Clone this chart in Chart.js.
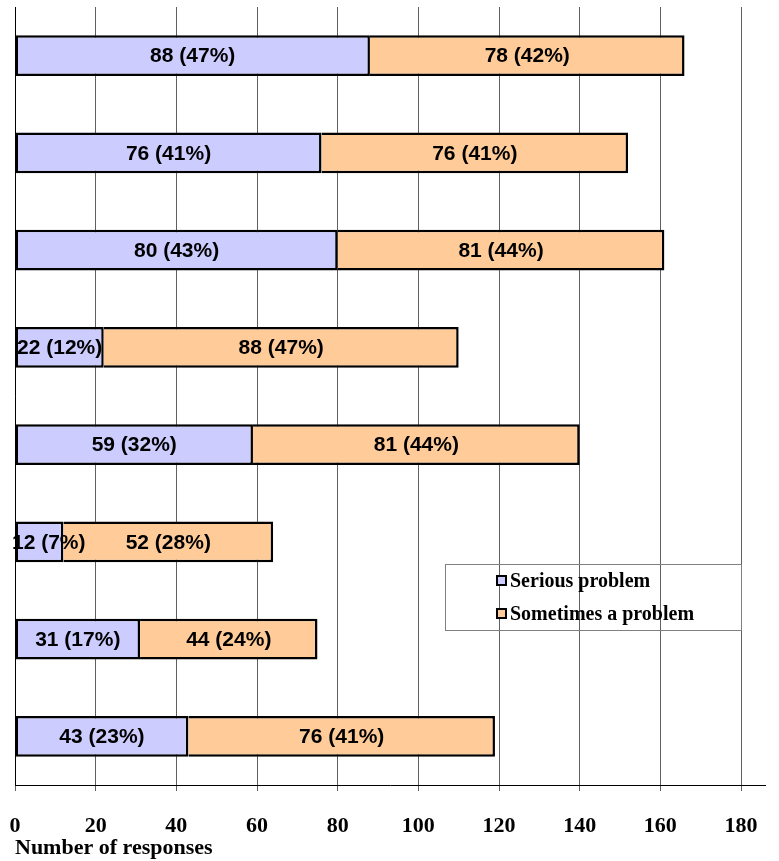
<!DOCTYPE html>
<html>
<head>
<meta charset="utf-8">
<script src="https://cdn.jsdelivr.net/npm/chart.js@4.4.1/dist/chart.umd.min.js"></script>
<style>
  html, body { margin: 0; padding: 0; background: #fff; }
  #wrap { width: 779px; height: 861px; position: relative; }
</style>
</head>
<body>
<div id="wrap"><canvas id="c"></canvas></div>
<script>
// Responses per item, top to bottom
const categories = ['Item 1', 'Item 2', 'Item 3', 'Item 4', 'Item 5', 'Item 6', 'Item 7', 'Item 8'];
const seriousCounts = [88, 76, 80, 22, 59, 12, 31, 43];
const seriousPct = [47, 41, 43, 12, 32, 7, 17, 23];
const sometimesCounts = [78, 76, 81, 88, 81, 52, 44, 76];
const sometimesPct = [42, 41, 44, 47, 44, 28, 24, 41];
const seriesNames = ['Serious problem', 'Sometimes a problem'];
const xTicks = [0, 20, 40, 60, 80, 100, 120, 140, 160, 180];

const pctBySeries = [seriousPct, sometimesPct];

// Writes "count (pct%)" in the middle of each bar segment
const segmentLabels = {
  id: 'segmentLabels',
  afterDatasetsDraw(chart) {
    const ctx = chart.ctx;
    ctx.save();
    ctx.font = 'bold 21px "Liberation Sans", Arial, sans-serif';
    ctx.fillStyle = '#000';
    ctx.textAlign = 'center';
    ctx.textBaseline = 'middle';
    chart.data.datasets.forEach((ds, di) => {
      const meta = chart.getDatasetMeta(di);
      meta.data.forEach((bar, i) => {
        const text = ds.data[i] + ' (' + pctBySeries[di][i] + '%)';
        const w = ctx.measureText(text).width;
        // keep narrow-segment labels from running off the left edge
        const cx = Math.max((bar.x + bar.base) / 2, 12 + w / 2);
        ctx.fillText(text, cx, bar.y + 1);
      });
    });
    ctx.restore();
  }
};

// Boxed legend inside the plot, plus the run-out of the value axis line
const boxedLegend = {
  id: 'boxedLegend',
  afterDraw(chart) {
    const ctx = chart.ctx;
    const area = chart.chartArea;
    ctx.save();
    // value axis line continues a little past the last gridline
    ctx.strokeStyle = '#000';
    ctx.lineWidth = 1;
    ctx.beginPath();
    ctx.moveTo(area.left, Math.round(area.bottom) + 0.5);
    ctx.lineTo(766, Math.round(area.bottom) + 0.5);
    ctx.stroke();

    const bx = 445.5, by = 564.5, bw = 296, bh = 66;
    ctx.strokeStyle = '#808080';
    ctx.lineWidth = 1;
    ctx.strokeRect(bx, by, bw, bh);

    ctx.font = 'bold 20px "Liberation Serif", "Times New Roman", serif';
    ctx.textAlign = 'left';
    ctx.textBaseline = 'middle';
    const rows = [581, 614];
    chart.data.datasets.forEach((ds, di) => {
      const y = rows[di];
      ctx.fillStyle = ds.backgroundColor;
      ctx.fillRect(497, y - 5, 9, 9);
      ctx.strokeStyle = '#000';
      ctx.lineWidth = 2;
      ctx.strokeRect(497, y - 5, 9, 9);
      ctx.fillStyle = '#000';
      ctx.fillText(seriesNames[di], 510, y + 1);
    });
    ctx.restore();
  }
};

new Chart(document.getElementById('c'), {
  type: 'bar',
  data: {
    labels: categories,
    datasets: [
      {
        label: seriesNames[0],
        data: seriousCounts,
        backgroundColor: '#CCCCFF',
        borderColor: '#000',
        borderWidth: 2.5,
        borderSkipped: false,
        categoryPercentage: 1,
        barPercentage: 0.42
      },
      {
        label: seriesNames[1],
        data: sometimesCounts,
        backgroundColor: '#FFCC99',
        borderColor: '#000',
        borderWidth: 2.5,
        borderSkipped: 'left',
        categoryPercentage: 1,
        barPercentage: 0.42
      }
    ]
  },
  options: {
    indexAxis: 'y',
    responsive: true,
    maintainAspectRatio: false,
    animation: false,
    layout: { padding: { left: 15, top: 7, right: 38, bottom: 1 } },
    plugins: {
      legend: { display: false },
      tooltip: { enabled: false }
    },
    scales: {
      x: {
        stacked: true,
        min: 0,
        max: 180,
        afterBuildTicks(scale) {
          scale.ticks = xTicks.map(v => ({ value: v }));
        },
        afterFit(scale) {
          scale.height = 75;
          scale.paddingLeft = 0;
          scale.paddingRight = 0;
        },
        grid: {
          color: '#606060',
          lineWidth: 1,
          tickLength: 6,
          tickColor: '#606060'
        },
        border: { display: false },
        ticks: {
          color: '#000',
          padding: 22,
          maxRotation: 0,
          font: { family: '"Liberation Serif", "Times New Roman", serif', size: 22, weight: 'bold' }
        },
        title: {
          display: true,
          text: 'Number of responses',
          align: 'start',
          color: '#000',
          padding: { top: 0, bottom: -2 },
          font: { family: '"Liberation Serif", "Times New Roman", serif', size: 22, weight: 'bold' }
        }
      },
      y: {
        stacked: true,
        afterFit(scale) {
          scale.width = 0;
          scale.paddingTop = 0;
          scale.paddingBottom = 0;
        },
        grid: { display: false },
        border: { display: true, color: '#000', width: 1 },
        ticks: { display: false }
      }
    }
  },
  plugins: [segmentLabels, boxedLegend]
});
</script>
</body>
</html>
